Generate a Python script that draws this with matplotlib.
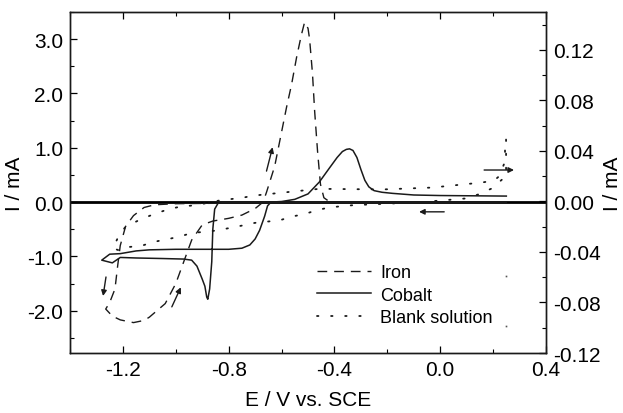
import numpy as np
import matplotlib
matplotlib.use('Agg')
import matplotlib.pyplot as plt
from matplotlib.ticker import MultipleLocator, FormatStrFormatter

plt.rcParams['font.family'] = ['Liberation Sans', 'DejaVu Sans']

# Iron CV, left axis (mA)
iron_E = [-0.40, -0.60, -0.80, -1.00, -1.08, -1.12, -1.16, -1.19, -1.21, -1.22, -1.23, -1.25, -1.265,
          -1.24, -1.21, -1.16, -1.12, -1.10, -1.04, -1.00, -0.97, -0.94, -0.90, -0.86, -0.80, -0.75,
          -0.70, -0.67, -0.657, -0.626, -0.60, -0.581, -0.562, -0.543, -0.525, -0.513, -0.50, -0.494,
          -0.483, -0.475, -0.464, -0.453, -0.44, -0.42]
iron_I = [-0.01, -0.02, -0.02, -0.03, -0.05, -0.10, -0.25, -0.45, -0.80, -1.18, -1.60, -1.85, -1.97,
          -2.10, -2.17, -2.22, -2.18, -2.12, -1.87, -1.50, -1.10, -0.70, -0.42, -0.35, -0.30, -0.24,
          -0.12, 0.00, 0.18, 0.66, 1.29, 1.75, 2.17, 2.67, 3.08, 3.31, 3.20, 3.00,
          2.36, 1.68, 0.94, 0.33, 0.08, 0.01]

# Cobalt CV, left axis (mA)
cobalt_E = [0.25, 0.00, -0.50, -0.82, -0.84, -0.853, -0.86, -0.864, -0.872, -0.879, -0.883, -0.89,
            -0.90, -0.92, -0.94, -0.97, -1.05, -1.15, -1.21, -1.24, -1.28, -1.25, -1.21, -1.15,
            -1.10, -1.00, -0.90, -0.80, -0.75, -0.72, -0.70, -0.683, -0.664, -0.653, -0.64, -0.60,
            -0.55, -0.50, -0.457, -0.42, -0.39, -0.37, -0.355, -0.343, -0.33, -0.315, -0.30, -0.285,
            -0.27, -0.25, -0.22, -0.18, -0.10, 0.00, 0.25]
cobalt_I = [0.00, -0.01, -0.01, -0.01, -0.02, -0.13, -0.50, -1.10, -1.60, -1.79, -1.75, -1.55,
            -1.42, -1.18, -1.07, -1.05, -1.04, -1.03, -1.02, -1.12, -1.07, -0.96, -0.95, -0.90,
            -0.88, -0.87, -0.87, -0.87, -0.85, -0.79, -0.68, -0.52, -0.26, -0.07, 0.00, 0.01,
            0.05, 0.15, 0.37, 0.62, 0.82, 0.93, 0.97, 0.98, 0.95, 0.82, 0.60, 0.40,
            0.28, 0.21, 0.18, 0.16, 0.13, 0.12, 0.11]

# Blank solution CV, right axis (mA)
blank_E = [0.249, 0.249, 0.249, 0.192, 0.143, 0.098, 0.053, -0.09, -0.185, -0.332, -0.419, -0.468,
           -0.513, -0.562, -0.608, -0.657, -0.702, -0.747, -0.796, -0.845, -0.891, -0.94, -0.989,
           -1.034, -1.083, -1.128, -1.174, -1.211, -1.238, -1.215, -1.19, -1.125, -1.075, -1.03,
           -0.981, -0.936, -0.891, -0.834, -0.747, -0.702, -0.596, -0.457, -0.219, -0.03, 0.158,
           0.204, 0.223, 0.242, 0.245, 0.245]
blank_I = [0.049, 0.035, 0.020, 0.010, 0.0055, 0.0024, 0.0016, -0.0008, -0.0016, -0.003, -0.0047, -0.007,
           -0.010, -0.012, -0.015, -0.016, -0.017, -0.019, -0.021, -0.023, -0.024, -0.025, -0.028,
           -0.030, -0.032, -0.035, -0.036, -0.039, -0.037, -0.027, -0.020, -0.0134, -0.0095, -0.0063,
           -0.004, -0.0032, -0.0016, 0.0008, 0.003, 0.0047, 0.007, 0.010, 0.0095, 0.011, 0.015,
           0.0166, 0.020, 0.030, 0.039, 0.049]
blank_stray_E = [0.25, 0.25]
blank_stray_I = [-0.059, -0.099]

# scan direction arrows (start, end) in left-axis units
arrows = [((-0.657, 0.57), (-0.634, 1.01)),
          ((-1.015, -1.93), (-0.981, -1.57)),
          ((-1.264, -1.38), (-1.275, -1.73)),
          ((0.166, 0.59), (0.279, 0.59)),
          ((0.015, -0.18), (-0.08, -0.18))]

col = '#1a1a1a'

fig = plt.figure(figsize=(6.23, 4.14), dpi=100)
ax = fig.add_axes([0.1124, 0.1449, 0.764, 0.8237])
ax2 = ax.twinx()

l1, = ax.plot(iron_E, iron_I, color=col, lw=1.0, dashes=(7, 5), label='Iron')
l2, = ax.plot(cobalt_E, cobalt_I, color=col, lw=1.1, label='Cobalt')
l3, = ax2.plot(blank_E, blank_I, color=col, lw=1.3, linestyle=(0, (0.8, 7)),
               dash_capstyle='round', label='Blank solution')
ax2.plot(blank_stray_E, blank_stray_I, 's', color='#555555', ms=1.2, mew=0)
ax.axhline(0, color='k', lw=2.0, zorder=1)

for start, end in arrows:
    ax.annotate('', xy=end, xytext=start,
                arrowprops=dict(arrowstyle='-|>', color=col, lw=1.0, mutation_scale=8,
                                shrinkA=0, shrinkB=0))

ax.set_xlim(-1.4, 0.4)
ax.set_ylim(-2.78, 3.5)
ax2.set_ylim(-0.12, 0.15)

ax.set_xticks([-1.2, -0.8, -0.4, 0.0, 0.4])
ax.xaxis.set_minor_locator(MultipleLocator(0.2))
ax.xaxis.set_major_formatter(FormatStrFormatter('%.1f'))
ax.set_yticks([-2, -1, 0, 1, 2, 3])
ax.yaxis.set_minor_locator(MultipleLocator(0.5))
ax.yaxis.set_major_formatter(FormatStrFormatter('%.1f'))
ax2.set_yticks([-0.12, -0.08, -0.04, 0.0, 0.04, 0.08, 0.12])
ax2.yaxis.set_minor_locator(MultipleLocator(0.02))
ax2.yaxis.set_major_formatter(FormatStrFormatter('%.2f'))

ax.tick_params(which='both', direction='in', top=True, labelsize=15, pad=5)
ax.tick_params(which='major', length=5, width=0.9)
ax.tick_params(which='minor', length=3, width=0.8)
ax2.tick_params(which='both', direction='in', labelsize=15, pad=5)
ax2.tick_params(which='major', length=5, width=0.9)
ax2.tick_params(which='minor', length=3, width=0.8)

for a in (ax, ax2):
    for s in a.spines.values():
        s.set_linewidth(1.0)
        s.set_color(col)

ax.set_xlabel('E / V vs. SCE', fontsize=15, labelpad=8)
ax.set_ylabel('I / mA', fontsize=15, labelpad=2)
ax2.set_ylabel('I / mA', fontsize=15, labelpad=2)

ax2.legend(handles=[l1, l2, l3], loc='center', bbox_to_anchor=(0.704, 0.17), frameon=False,
           fontsize=13, handlelength=3.0, handletextpad=0.5, labelspacing=0.3)

fig.savefig('out.png', dpi=100)
